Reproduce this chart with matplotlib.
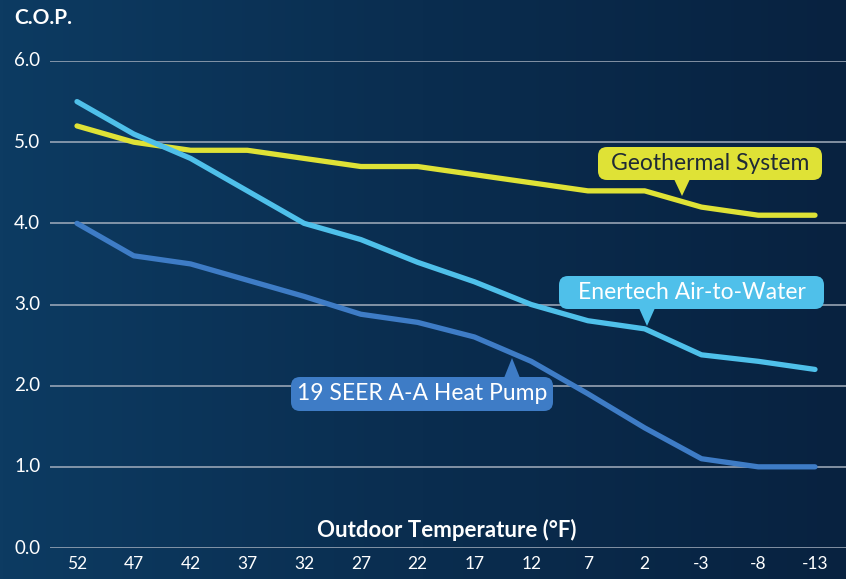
import numpy as np
import matplotlib.pyplot as plt
from matplotlib.patches import FancyBboxPatch, Polygon
from matplotlib.colors import LinearSegmentedColormap
import matplotlib.transforms as mtransforms

# Data
temps = ['52', '47', '42', '37', '32', '27', '22', '17', '12', '7', '2', '-3', '-8', '-13']
geothermal = [5.2, 5.0, 4.9, 4.9, 4.8, 4.7, 4.7, 4.6, 4.5, 4.4, 4.4, 4.2, 4.1, 4.1]
air_to_water = [5.5, 5.1, 4.8, 4.4, 4.0, 3.8, 3.52, 3.28, 3.0, 2.8, 2.7, 2.38, 2.3, 2.2]
heat_pump = [4.0, 3.6, 3.5, 3.3, 3.1, 2.88, 2.78, 2.6, 2.3, 1.9, 1.48, 1.1, 1.0, 1.0]
yticks = [0, 1, 2, 3, 4, 5, 6]

YELLOW = '#dfe236'
LIGHT = '#4fc0ea'
BLUE = '#3e7cc6'

plt.rcParams['font.family'] = ['Lato', 'DejaVu Sans']

W, H = 846, 579
fig = plt.figure(figsize=(W / 100, H / 100), dpi=100)

# background gradient
bg = fig.add_axes([0, 0, 1, 1], zorder=0)
cmap = LinearSegmentedColormap.from_list('bg', ['#0d3b62', '#0a2d4f', '#082240'])
bg.imshow(np.linspace(0, 1, 256).reshape(1, -1), cmap=cmap, aspect='auto',
          extent=[0, 1, 0, 1])
bg.axis('off')

# main axes: x index 0 at px 77, 13 at px 815; y 0 at px 548, 6 at px 61
x0px, x1px = 50, 846
step = (815 - 77) / 13
xl = (x0px - 77) / step
xr = (x1px - 77) / step
ax = fig.add_axes([x0px / W, 1 - 548 / H, (x1px - x0px) / W, (548 - 61) / H], zorder=1)
ax.patch.set_alpha(0)
ax.set_xlim(xl, xr)
ax.set_ylim(0, 6)
for s in ax.spines.values():
    s.set_visible(False)

x = np.arange(len(temps))
for yv in yticks:
    ax.axhline(yv, color='#a3aebd', lw=1.1, zorder=1)

ax.plot(x, geothermal, color=YELLOW, lw=3.8, solid_capstyle='round', solid_joinstyle='round', zorder=3)
ax.plot(x, air_to_water, color=LIGHT, lw=3.8, solid_capstyle='round', solid_joinstyle='round', zorder=4)
ax.plot(x, heat_pump, color=BLUE, lw=3.8, solid_capstyle='round', solid_joinstyle='round', zorder=5)

ax.set_xticks(x)
ax.set_xticklabels(temps, color='white', fontsize=12.5)
ax.set_yticks([])
ax.tick_params(axis='x', length=0, pad=6)

# y labels, left aligned near figure edge
trans = mtransforms.blended_transform_factory(fig.transFigure, ax.transData)
for yv in yticks:
    fig.text(14 / W, yv, f'{yv:.1f}', transform=trans, color='white', fontsize=13.5,
             ha='left', va='center')

fig.text(14 / W, 1 - 18 / H, 'C.O.P.', color='white', fontsize=15, fontweight='bold',
         ha='left', va='center')
fig.text(447 / W, 1 - 530 / H, 'Outdoor Temperature (°F)', color='white', fontsize=16,
         fontweight='bold', ha='center', va='center')


def callout(left, top, right, bottom, tip, text, fc, tc, up=False):
    # boxes placed in pixel coordinates
    box = FancyBboxPatch((left, H - bottom), right - left, bottom - top,
                         boxstyle='round,pad=0,rounding_size=9', fc=fc, ec='none',
                         transform=mtransforms.Affine2D(), zorder=6)
    fig.add_artist(box)
    half = 8
    base_y = (H - top - 1) if up else (H - bottom + 1)
    tri = Polygon([(tip[0] - half, base_y), (tip[0] + half, base_y), (tip[0], H - tip[1])],
                  closed=True, fc=fc, ec='none', zorder=6,
                  transform=mtransforms.Affine2D())
    fig.add_artist(tri)
    fig.text((left + right) / 2 / W, 1 - (top + bottom) / 2 / H, text, color=tc,
             fontsize=16.5, ha='center', va='center', zorder=7)


callout(598, 147, 822, 180, (682, 196), 'Geothermal System', YELLOW, '#1f2a36')
callout(559, 276, 824, 309, (647, 326), 'Enertech Air-to-Water', LIGHT, 'white')
callout(291, 377, 553, 411, (512, 358), '19 SEER A-A Heat Pump', BLUE, 'white', up=True)

fig.savefig('out.png', dpi=100)
